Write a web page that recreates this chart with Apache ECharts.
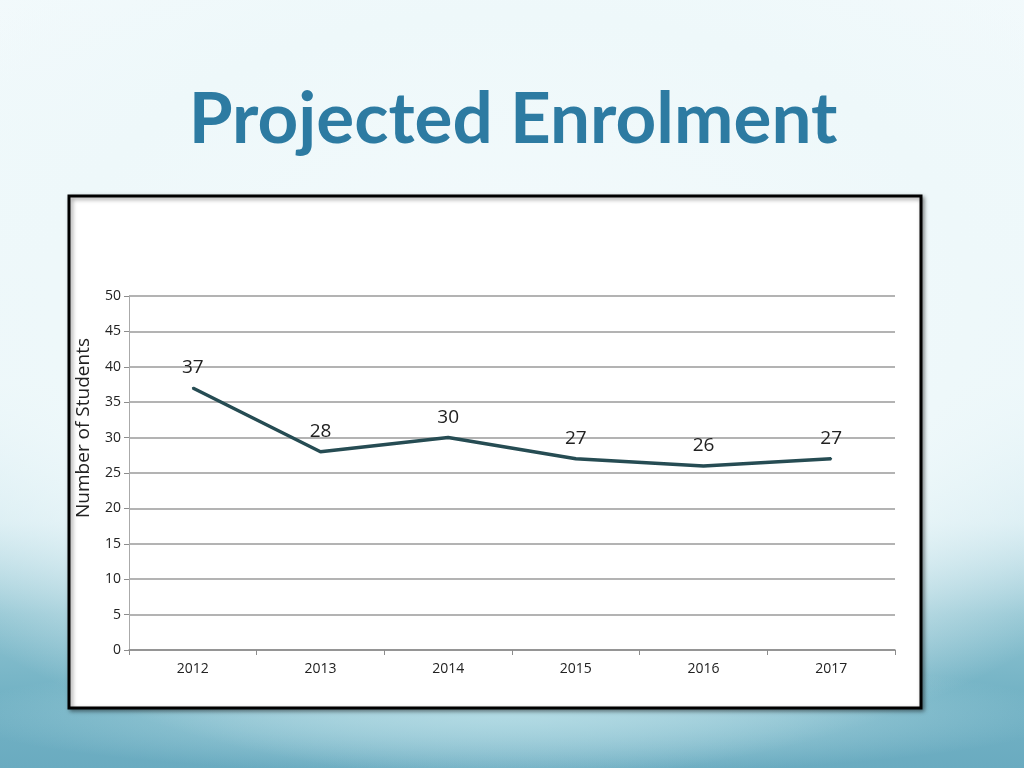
<!DOCTYPE html>
<html><head><meta charset="utf-8">
<script src="https://cdn.jsdelivr.net/npm/echarts@6/dist/echarts.min.js"></script>
<style>
html,body{margin:0;padding:0;}
#bg{position:absolute;left:0;top:0;width:1024px;height:768px;
background:
 radial-gradient(ellipse 560px 60px at 512px 715px, rgba(180,220,229,0.9) 0%, rgba(180,220,229,0) 100%),
 radial-gradient(ellipse 760px 480px at 512px 300px, #f3fafc 0%, #eef8fa 60%, rgba(238,248,250,0) 100%),
 linear-gradient(180deg, #f3fafc 0%, #ecf7fa 50%, #cfe8ef 68%, #8ec3d1 80%, #74b3c5 90%, #6aabc0 100%);}
#main{position:absolute;left:0;top:0;width:1024px;height:768px;}
</style></head>
<body><div id="bg"></div><div id="main"></div>
<script>
const categories = ['2012','2013','2014','2015','2016','2017'];
const students = [37, 28, 30, 27, 26, 27];
const yTicks = {min:0, max:50, interval:5};

const chart = echarts.init(document.getElementById('main'), null, {renderer:'canvas'});
chart.setOption({
  backgroundColor:'transparent',
  animation:false,
  graphic:[
    {type:'rect', z:-10, shape:{x:69,y:196,width:852,height:512},
     style:{fill:'#fff', stroke:'#000', lineWidth:3, shadowBlur:4, shadowOffsetX:2, shadowOffsetY:2, shadowColor:'rgba(0,0,0,0.4)'}},
    {type:'text', x:513, y:120, style:{text:'Projected Enrolment', fill:'#2d7ba2', fontWeight:'bold', fontSize:71, fontFamily:'Lato', textAlign:'center', textVerticalAlign:'middle'}},
    {type:'text', x:84, y:428, rotation:Math.PI/2, style:{text:'Number of Students', fill:'#222', fontSize:19, fontFamily:'Open Sans', textAlign:'center', textVerticalAlign:'middle'}}
  ],
  grid:{left:129, right:129, top:296, bottom:118},
  xAxis:{type:'category', data:categories, boundaryGap:true,
    axisLine:{lineStyle:{color:'#8c8c8c', width:1.5}},
    axisTick:{show:true, length:5, lineStyle:{color:'#8c8c8c'}},
    axisLabel:{color:'#222', fontSize:14, margin:12, fontFamily:'Open Sans'}},
  yAxis:{type:'value', min:yTicks.min, max:yTicks.max, interval:yTicks.interval,
    axisLine:{show:true, lineStyle:{color:'#aaa', width:1}},
    axisTick:{show:true, length:5, lineStyle:{color:'#8c8c8c'}},
    axisLabel:{color:'#222', fontSize:14, margin:8, fontFamily:'Open Sans'},
    splitLine:{lineStyle:{color:'#9a9a9a', width:1.5}}},
  series:[{type:'line', data:students, symbol:'circle', symbolSize:2, showSymbol:true,
    itemStyle:{color:'#264c53'},
    lineStyle:{color:'#264c53', width:3.5},
    label:{show:true, position:'top', distance:10, color:'#222', fontSize:19, fontFamily:'Open Sans'}}]
});
</script></body></html>
